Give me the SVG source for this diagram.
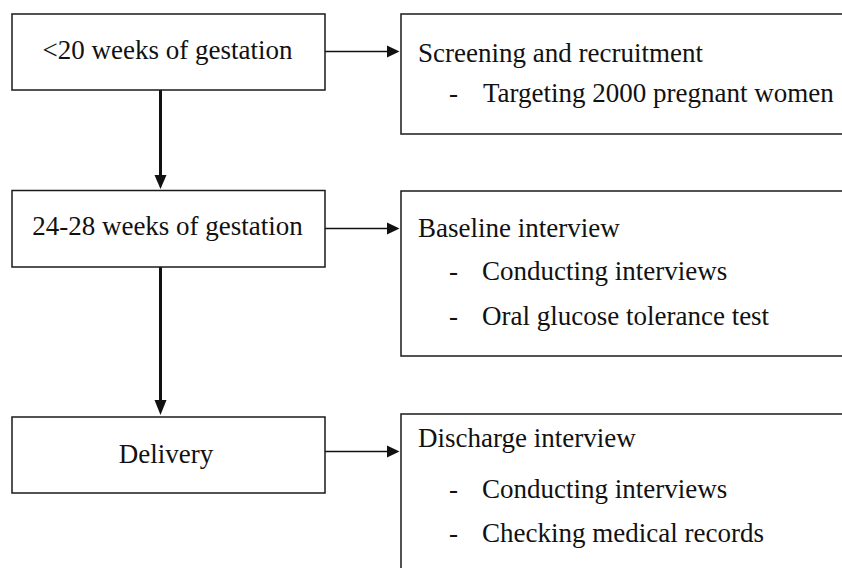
<svg xmlns="http://www.w3.org/2000/svg" width="842" height="568" viewBox="0 0 842 568">
<style>
.box{fill:#fff;stroke:#1a1a1a;stroke-width:1.5}
.t{font-family:'Liberation Serif','Times New Roman',serif;font-size:27px;fill:#111}
.c{text-anchor:middle}
.h{stroke:#111;stroke-width:1.4;fill:none}
.v{stroke:#111;stroke-width:3;fill:none}
.ah{fill:#111}
</style>
<rect width="842" height="568" fill="#fff"/>
<g id="connectors">
<line class="h" x1="325" y1="51.5" x2="388" y2="51.5"/>
<polygon class="ah" points="387,45.5 399.5,51.5 387,57.5"/>
<line class="h" x1="325" y1="228.5" x2="388" y2="228.5"/>
<polygon class="ah" points="387,222.5 399.5,228.5 387,234.5"/>
<line class="h" x1="325" y1="451.5" x2="388" y2="451.5"/>
<polygon class="ah" points="387,445.5 399.5,451.5 387,457.5"/>
<line class="v" x1="160.5" y1="90" x2="160.5" y2="176"/>
<polygon class="ah" points="154.5,175 166.5,175 160.5,189"/>
<line class="v" x1="160.5" y1="267" x2="160.5" y2="401"/>
<polygon class="ah" points="154.5,400 166.5,400 160.5,415"/>
</g>
<g id="n1">
<rect class="box" x="12" y="14" width="313" height="76"/>
<text class="t c" x="167.5" y="59">&lt;20 weeks of gestation</text>
</g>
<g id="n2">
<rect class="box" x="401" y="14" width="460" height="120"/>
<text class="t" x="418" y="62">Screening and recruitment</text>
<text class="t" x="449" y="102">-</text>
<text class="t" x="483" y="102">Targeting 2000 pregnant women</text>
</g>
<g id="n3">
<rect class="box" x="12" y="190.5" width="313" height="76.5"/>
<text class="t c" x="167.5" y="235">24-28 weeks of gestation</text>
</g>
<g id="n4">
<rect class="box" x="401" y="191" width="460" height="165"/>
<text class="t" x="418" y="237">Baseline interview</text>
<text class="t" x="449" y="280">-</text>
<text class="t" x="482" y="280">Conducting interviews</text>
<text class="t" x="449" y="325">-</text>
<text class="t" x="482" y="325">Oral glucose tolerance test</text>
</g>
<g id="n5">
<rect class="box" x="12" y="417" width="313" height="76"/>
<text class="t c" x="166" y="463">Delivery</text>
</g>
<g id="n6">
<rect class="box" x="401" y="414" width="460" height="200"/>
<text class="t" x="418" y="447">Discharge interview</text>
<text class="t" x="449" y="498">-</text>
<text class="t" x="482" y="498">Conducting interviews</text>
<text class="t" x="449" y="542">-</text>
<text class="t" x="482" y="542">Checking medical records</text>
</g>
</svg>
